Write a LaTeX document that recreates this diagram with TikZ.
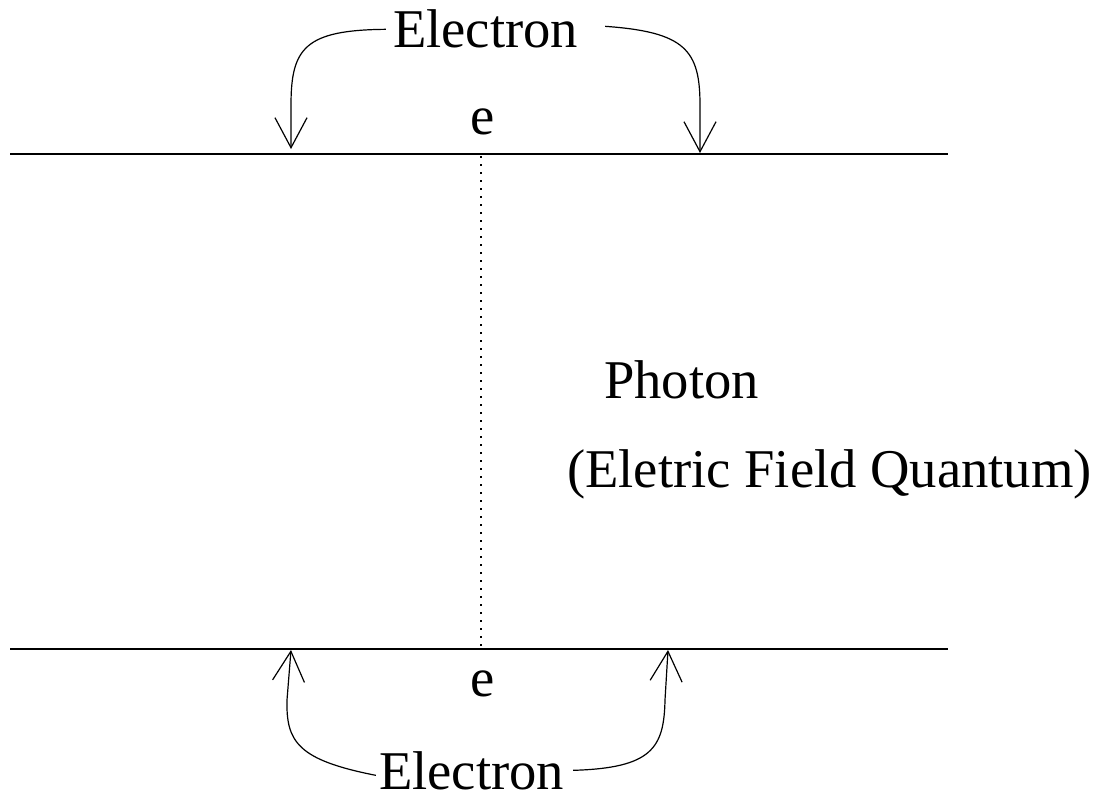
\documentclass[tikz,border=0pt]{standalone}
\usepackage{fontspec}
\setmainfont{Liberation Serif}
\usetikzlibrary{arrows.meta}
\begin{document}
\begin{tikzpicture}[x=1pt,y=-1pt,
  lbl/.style={inner sep=0pt,font=\fontsize{54.6pt}{60pt}\selectfont},
  rail/.style={line width=2.8pt},
  curvearrow/.style={line width=1.2pt,-{Straight Barb[length=30pt,width=32pt,line width=1.2pt]}},
  photonline/.style={line width=2pt,dash pattern=on 2pt off 6pt}]
\useasboundingbox (0,0) rectangle (1102,793);
% rails
\coordinate (tl) at (10,154);
\coordinate (tr) at (948,154);
\coordinate (bl) at (10,649);
\coordinate (br) at (948,649);
\draw[rail] (tl) -- (tr);
\draw[rail] (bl) -- (br);
% photon exchange
\coordinate (pt) at (481,156);
\coordinate (pb) at (481,647);
\draw[photonline] (pt) -- (pb);
% labels
\node[lbl,anchor=base] (eT) at (485.5,47) {Electron};
\node[lbl,anchor=base] (eB) at (471.5,789) {Electron};
\node[lbl,anchor=base] (et) at (483,134) {e};
\node[lbl,anchor=base] (eb) at (483,696) {e};
\node[lbl,anchor=base west] (ph) at (604,398) {Photon};
\node[lbl,anchor=base west] (fq) at (567,487) {(Eletric Field Quantum)};
% arrow targets
\coordinate (a1) at (291,149);
\coordinate (a2) at (700,153);
\coordinate (a3) at (291,650);
\coordinate (a4) at (668,650);
\draw[curvearrow] ([xshift=-7pt,yshift=-1pt]eT.west) .. controls (305,30) and (291,48) .. (291,105) -- (a1);
\draw[curvearrow] ([xshift=27pt,yshift=2pt]eT.east) .. controls (685,32) and (700,50) .. (700,105) -- (a2);
\draw[curvearrow] ([xshift=-3pt,yshift=-5pt]eB.west) .. controls (298,760) and (286,742) .. (287,700) -- (a3);
\draw[curvearrow] ([xshift=9pt,yshift=0pt]eB.east) .. controls (652,768) and (664,748) .. (665,700) -- (a4);
\end{tikzpicture}
\end{document}
